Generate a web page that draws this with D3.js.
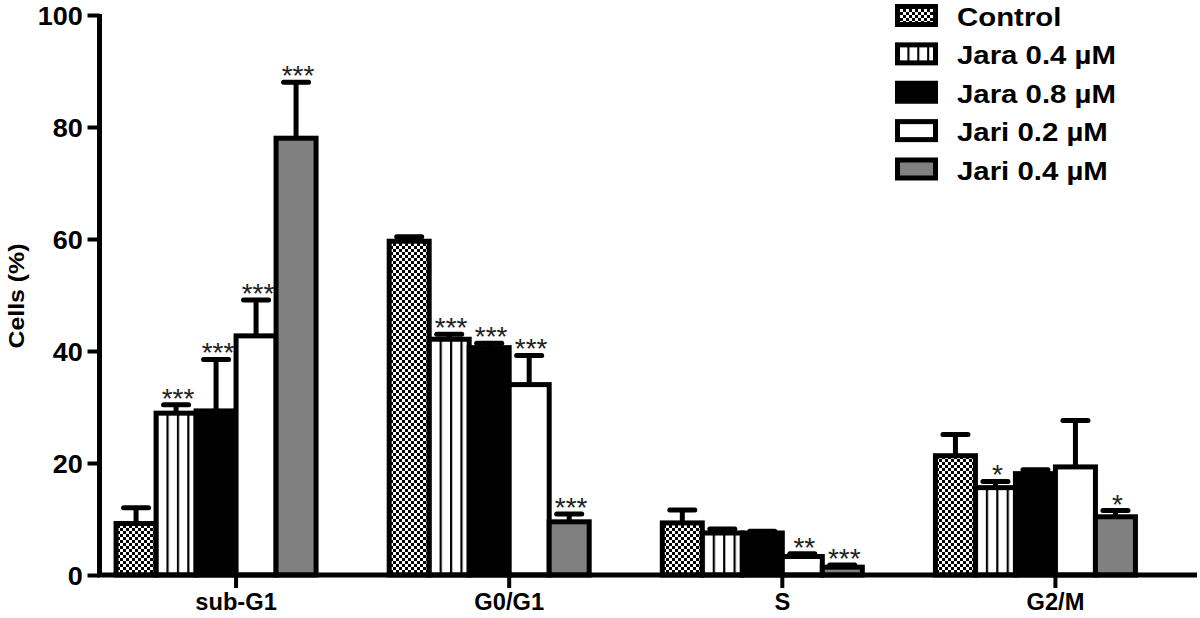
<!DOCTYPE html>
<html>
<head>
<meta charset="utf-8">
<script src="https://cdn.jsdelivr.net/npm/d3@7"></script>
<style>
  html, body { margin: 0; padding: 0; background: #fff; }
  svg { display: block; font-family: "Liberation Sans", Arial, sans-serif; }
</style>
</head>
<body>
<svg id="chart" width="1200" height="618"></svg>
<script>
// ---------------- data ----------------
const categories = ["sub-G1", "G0/G1", "S", "G2/M"];
const series = ["Control", "Jara 0.4 \u00b5M", "Jara 0.8 \u00b5M", "Jari 0.2 \u00b5M", "Jari 0.4 \u00b5M"];

// mean values per category (sub-G1, G0/G1, S, G2/M)
const controlMean = [9.2, 59.6, 9.3, 21.3];
const jara04Mean  = [28.9, 42.1, 7.5, 15.6];
const jara08Mean  = [29.3, 40.6, 7.5, 18.1];
const jari02Mean  = [42.7, 34.0, 3.3, 19.3];
const jari04Mean  = [78.0, 9.5, 1.4, 10.4];

// upper error bar (SD) per category
const controlErr = [2.8, 0.8, 2.3, 3.8];
const jara04Err  = [1.5, 0.9, 0.7, 1.1];
const jara08Err  = [9.2, 0.8, 0.3, 0.7];
const jari02Err  = [6.4, 5.2, 0.5, 8.3];
const jari04Err  = [10.0, 1.4, 0.4, 1.1];

// significance marks
const controlSig = ["", "", "", ""];
const jara04Sig  = ["***", "***", "", "*"];
const jara08Sig  = ["***", "***", "", ""];
const jari02Sig  = ["***", "***", "**", ""];
const jari04Sig  = ["***", "***", "***", "*"];

const yTicks = [0, 20, 40, 60, 80, 100];
const yLabel = "Cells (%)";

const means = [controlMean, jara04Mean, jara08Mean, jari02Mean, jari04Mean];
const errs  = [controlErr, jara04Err, jara08Err, jari02Err, jari04Err];
const sigs  = [controlSig, jara04Sig, jara08Sig, jari02Sig, jari04Sig];

const fills = ["url(#checker)", "url(#vstripes)", "#000", "#fff", "#808080"];

const records = [];
categories.forEach((c, ci) => {
  series.forEach((s, si) => {
    records.push({cat: c, ser: s, si, value: means[si][ci], err: errs[si][ci], sig: sigs[si][ci]});
  });
});

// ---------------- chart ----------------
const svg = d3.select("#chart");
const defs = svg.append("defs");

// checkerboard pattern
const chk = defs.append("pattern").attr("id", "checker")
  .attr("patternUnits", "userSpaceOnUse").attr("width", 6).attr("height", 6);
chk.append("rect").attr("width", 6).attr("height", 6).attr("fill", "#fff");
chk.append("rect").attr("width", 3).attr("height", 3).attr("fill", "#000");
chk.append("rect").attr("x", 3).attr("y", 3).attr("width", 3).attr("height", 3).attr("fill", "#000");

// vertical stripes pattern (relative to each bar)
const vs = defs.append("pattern").attr("id", "vstripes")
  .attr("patternUnits", "objectBoundingBox").attr("patternContentUnits", "objectBoundingBox")
  .attr("width", 0.26).attr("height", 1);
vs.append("rect").attr("width", 0.26).attr("height", 1).attr("fill", "#fff");
vs.append("rect").attr("x", 0).attr("width", 0.055).attr("height", 1).attr("fill", "#000");

const x0 = d3.scaleBand().domain(categories).range([99.5, 1192]).padding(0);
const x1 = d3.scaleBand().domain(series).range([-120, 80]).padding(0);
const y = d3.scaleLinear().domain([0, 100]).range([575, 15]);

const barX = d => x0(d.cat) + x0.bandwidth() / 2 + x1(d.ser);

// bars
svg.append("g").selectAll("rect").data(records).join("rect")
  .attr("x", barX)
  .attr("y", d => y(d.value))
  .attr("width", x1.bandwidth())
  .attr("height", d => y(0) - y(d.value))
  .attr("fill", d => fills[d.si])
  .attr("stroke", "#000")
  .attr("stroke-width", 5);

// error bars
const eg = svg.append("g").attr("stroke", "#000").attr("stroke-width", 5);
records.forEach(d => {
  const cx = barX(d) + x1.bandwidth() / 2;
  eg.append("line").attr("x1", cx).attr("x2", cx)
    .attr("y1", y(d.value)).attr("y2", y(d.value + d.err));
  eg.append("line").attr("x1", cx - 12.5).attr("x2", cx + 12.5)
    .attr("y1", y(d.value + d.err)).attr("y2", y(d.value + d.err))
    .attr("stroke-linecap", "round");
});

// significance stars
svg.append("g").selectAll("text").data(records.filter(d => d.sig)).join("text")
  .attr("x", d => barX(d) + x1.bandwidth() / 2 + 2)
  .attr("y", d => y(d.value + d.err) + 3)
  .attr("text-anchor", "middle")
  .attr("font-size", 28)
  .attr("fill", "#222")
  .text(d => d.sig);

// y axis
const yAxis = svg.append("g").attr("transform", "translate(99.5,0)")
  .call(d3.axisLeft(y).tickValues(yTicks).tickSize(12).tickPadding(4).tickSizeOuter(0));
yAxis.select(".domain").attr("stroke-width", 5).attr("d", `M0,${y(100) - 1}V${y(0) + 2}`);
yAxis.selectAll(".tick line").attr("stroke-width", 4);
yAxis.selectAll(".tick text")
  .attr("font-size", 26).attr("font-weight", "bold").attr("fill", "#000")
  .attr("font-family", "Liberation Sans, Arial, sans-serif")
  .attr("dy", "0.36em")
  .attr("transform", "scale(1.04,1)");

// x axis
const xAxis = svg.append("g").attr("transform", `translate(0,${y(0)})`)
  .call(d3.axisBottom(x0).tickSize(13).tickSizeOuter(0));
xAxis.select(".domain").attr("stroke-width", 5).attr("d", "M97,0H1197");
xAxis.selectAll(".tick line").attr("stroke-width", 4);
xAxis.selectAll(".tick text")
  .attr("font-size", 23).attr("font-weight", "bold").attr("fill", "#000")
  .attr("font-family", "Liberation Sans, Arial, sans-serif")
  .attr("y", 35).attr("dy", 0)
  .attr("transform", "scale(1.03,1)");

// y label
svg.append("text")
  .attr("transform", "translate(24,296) rotate(-90)")
  .attr("text-anchor", "middle")
  .attr("font-size", 22).attr("font-weight", "bold")
  .attr("textLength", 105).attr("lengthAdjust", "spacingAndGlyphs")
  .text(yLabel);

// legend
const ly = d3.scalePoint().domain(series).range([15.5, 169]);
const lg = svg.append("g");
series.forEach((s, si) => {
  lg.append("rect")
    .attr("x", 897.5).attr("y", ly(s) - 9)
    .attr("width", 38).attr("height", 18)
    .attr("fill", fills[si]).attr("stroke", "#000").attr("stroke-width", 5);
  lg.append("text")
    .attr("transform", `translate(957,${ly(s) + 10.5}) scale(1.13,1)`)
    .attr("font-size", 26).attr("font-weight", "bold")
    .text(s);
});
</script>
</body>
</html>
